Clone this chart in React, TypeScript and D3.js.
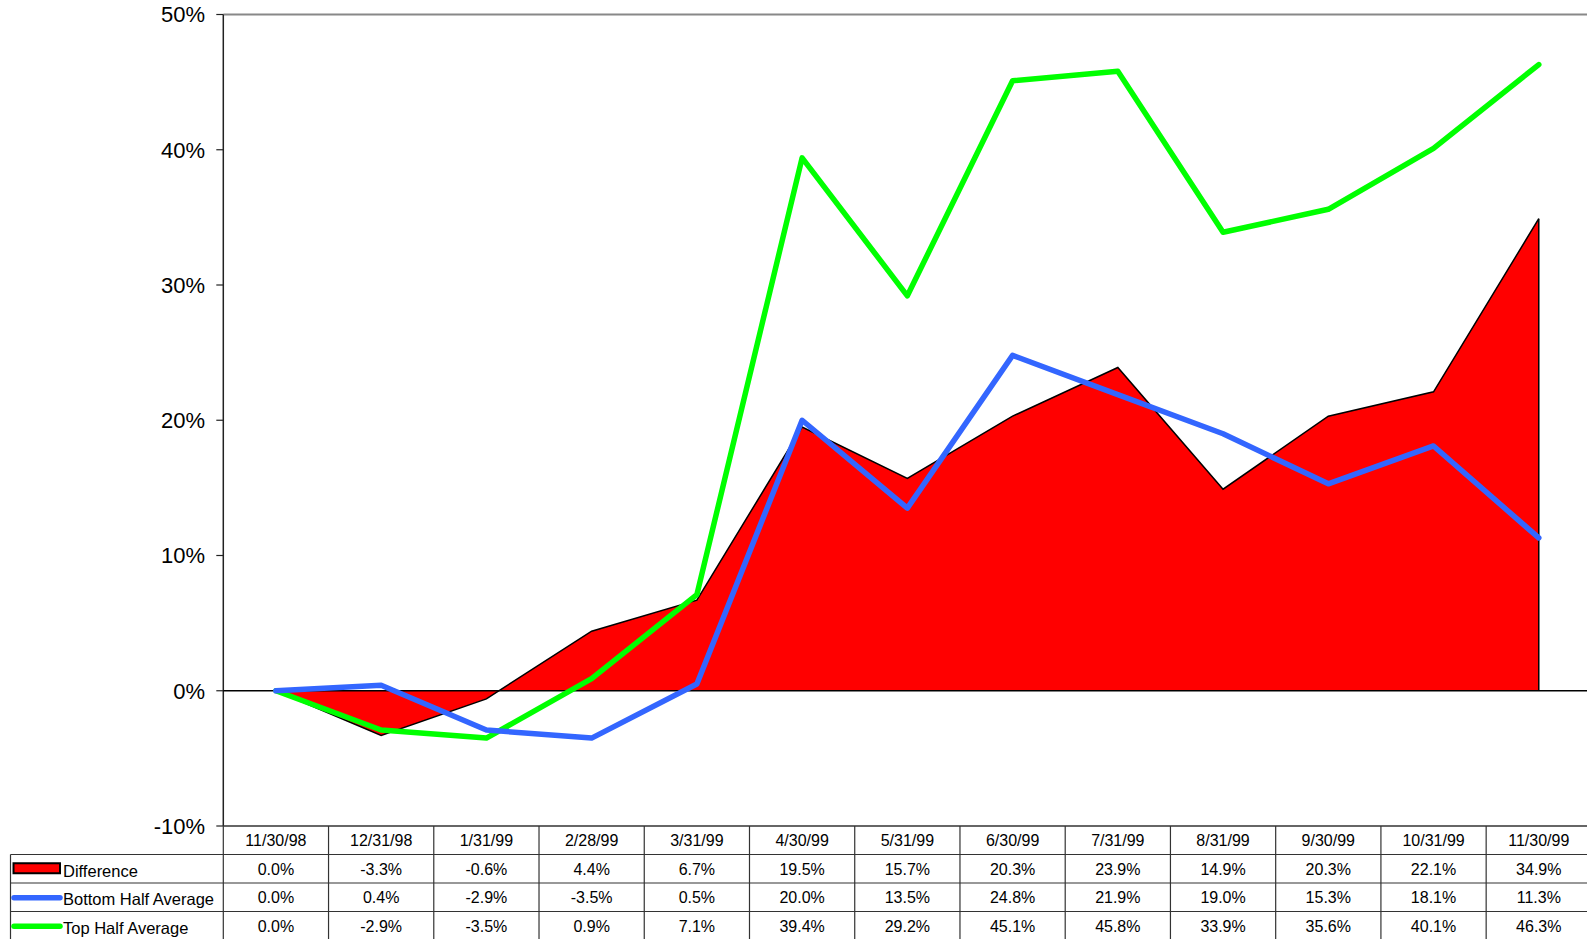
import React from "react";
import * as d3 from "d3";

const dates = ["11/30/98", "12/31/98", "1/31/99", "2/28/99", "3/31/99", "4/30/99", "5/31/99", "6/30/99", "7/31/99", "8/31/99", "9/30/99", "10/31/99", "11/30/99"];
const difference = [0.0, -3.3, -0.6, 4.4, 6.7, 19.5, 15.7, 20.3, 23.9, 14.9, 20.3, 22.1, 34.9];
const bottomHalf = [0.0, 0.4, -2.9, -3.5, 0.5, 20.0, 13.5, 24.8, 21.9, 19.0, 15.3, 18.1, 11.3];
const topHalf = [0.0, -2.9, -3.5, 0.9, 7.1, 39.4, 29.2, 45.1, 45.8, 33.9, 35.6, 40.1, 46.3];
const yTicks = [-10, 0, 10, 20, 30, 40, 50];

const W = 1587;
const H = 939;
const left = 223.3;
const right = 1591.4;
const top = 14.5;
const bottom = 826;
const rowH = 28.5;
const legendLeft = 10.5;
const font = "'Liberation Sans', Arial, sans-serif";

export default function App() {
  const x = d3.scaleBand<string>().domain(dates).range([left, right]);
  const y = d3.scaleLinear().domain([-10, 50]).range([bottom, top]);
  const cx = (i: number) => (x(dates[i]) as number) + x.bandwidth() / 2;

  const area = d3
    .area<number>()
    .x((_, i) => cx(i))
    .y0(y(0))
    .y1((d) => y(d));
  const outline = d3
    .line<number>()
    .x((_, i) => cx(i))
    .y((d) => y(d));

  const rows = [
    { name: "Difference", values: difference },
    { name: "Bottom Half Average", values: bottomHalf },
    { name: "Top Half Average", values: topHalf },
  ];

  const fmt = (v: number) => v.toFixed(1) + "%";
  const gridColor = "#333";

  return (
    <svg width={W} height={H} style={{ position: "absolute", left: 0, top: 0, background: "#fff" }}>
      {/* plot frame */}
      <line x1={left} x2={W} y1={top} y2={top} stroke="#888" strokeWidth={2} />
      <line x1={left} x2={left} y1={top} y2={bottom} stroke="#222" strokeWidth={1.5} />

      {/* y axis ticks and labels */}
      {yTicks.map((t) => (
        <g key={t}>
          <line x1={left - 7} x2={left} y1={y(t)} y2={y(t)} stroke="#222" strokeWidth={1.2} />
          <text
            x={205}
            y={y(t)}
            dy="0.36em"
            textAnchor="end"
            fontFamily={font}
            fontSize={22}
            fill="#000"
          >
            {t}%
          </text>
        </g>
      ))}

      {/* difference area */}
      <path d={area(difference) as string} fill="#ff0000" stroke="none" />
      <path d={outline(difference) as string} fill="none" stroke="#000" strokeWidth={1.5} />
      <line x1={cx(dates.length - 1)} x2={cx(dates.length - 1)} y1={y(difference[difference.length - 1])} y2={y(0)} stroke="#000" strokeWidth={1.5} />

      {/* zero line */}
      <line x1={left} x2={W} y1={y(0)} y2={y(0)} stroke="#000" strokeWidth={1.3} />

      {/* average lines */}
      <path d={outline(topHalf) as string} fill="none" stroke="#00ff00" strokeWidth={5.5} strokeLinecap="round" strokeLinejoin="round" />
      <path d={outline(bottomHalf) as string} fill="none" stroke="#3366ff" strokeWidth={5.5} strokeLinecap="round" strokeLinejoin="round" />

      {/* data table */}
      <line x1={left} x2={W} y1={bottom} y2={bottom} stroke={gridColor} strokeWidth={1.5} />
      {[1, 2, 3].map((r) => (
        <line key={r} x1={legendLeft} x2={W} y1={bottom + r * rowH} y2={bottom + r * rowH} stroke={gridColor} strokeWidth={1.2} />
      ))}
      <line x1={legendLeft} x2={legendLeft} y1={bottom + rowH} y2={H} stroke={gridColor} strokeWidth={1.2} />
      {dates.map((d) => (
        <line key={d} x1={x(d) as number} x2={x(d) as number} y1={bottom} y2={H} stroke={gridColor} strokeWidth={1.2} />
      ))}
      {dates.map((d, i) => (
        <text key={d} x={cx(i)} y={bottom + rowH / 2} dy="0.36em" textAnchor="middle" fontFamily={font} fontSize={16}>
          {d}
        </text>
      ))}
      {rows.map((row, r) => {
        const yc = bottom + (r + 1.5) * rowH;
        return (
          <g key={row.name}>
            {r === 0 ? (
              <rect x={13.5} y={yc - 5.5} width={46.5} height={10} fill="#ff0000" stroke="#000" strokeWidth={2} />
            ) : (
              <line x1={14} x2={60} y1={yc + 0.5} y2={yc + 0.5} stroke={r === 1 ? "#3366ff" : "#00ff00"} strokeWidth={5.5} strokeLinecap="round" />
            )}
            <text x={63} y={yc + 2} dy="0.36em" fontFamily={font} fontSize={16.5}>
              {row.name}
            </text>
            {row.values.map((v, i) => (
              <text key={i} x={cx(i)} y={yc} dy="0.36em" textAnchor="middle" fontFamily={font} fontSize={16}>
                {fmt(v)}
              </text>
            ))}
          </g>
        );
      })}
    </svg>
  );
}
